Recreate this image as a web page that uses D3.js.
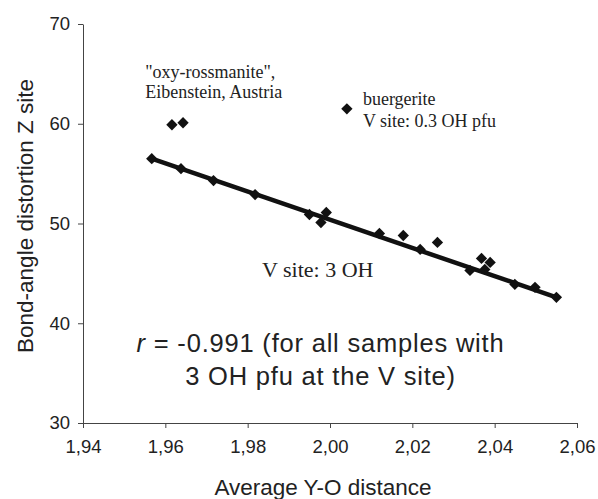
<!DOCTYPE html>
<html>
<head>
<meta charset="utf-8">
<script src="https://cdn.jsdelivr.net/npm/d3@7"></script>
<style>
  html, body { margin: 0; padding: 0; background: #fff; }
  svg { display: block; }
</style>
</head>
<body>
<div id="chart"></div>
<script>
// samples with 3 OH pfu at the V site (on the regression line)
const lineX = [1.9567, 1.9638, 1.9717, 1.9818, 1.9950, 1.9978, 1.9991, 2.0120, 2.0178,
               2.0219, 2.0261, 2.0340, 2.0368, 2.0376, 2.0389, 2.0449, 2.0498, 2.0550];
const lineY = [56.5, 55.5, 54.3, 52.9, 50.9, 50.1, 51.1, 49.0, 48.8,
               47.4, 48.1, 45.3, 46.5, 45.4, 46.1, 43.9, 43.6, 42.6];

// trend line ends, as drawn in the figure
const trendX = [1.9567, 2.0550];
const trendY = [56.5, 42.6];

// outliers
const oxyX = [1.9616, 1.9643];
const oxyY = [59.9, 60.1];
const buergX = [2.0041];
const buergY = [61.5];

const xTicks = [1.94, 1.96, 1.98, 2.00, 2.02, 2.04, 2.06];
const yTicks = [30, 40, 50, 60, 70];

const width = 598,
      height = 499,
      margin = { top: 24, right: 21, bottom: 76, left: 83 };

const sans = "'Liberation Sans', Arial, sans-serif",
      serif = "'Liberation Serif', 'Times New Roman', serif";

const locale = d3.formatLocale({ decimal: ",", thousands: ".", grouping: [3], currency: ["", ""] });
const fmtX = locale.format(".2f");

const svg = d3.select("#chart").append("svg")
  .attr("width", width)
  .attr("height", height)
  .attr("viewBox", [0, 0, width, height]);

const x = d3.scaleLinear()
  .domain([1.94, 2.06])
  .range([margin.left, width - margin.right]);

const y = d3.scaleLinear()
  .domain([30, 70])
  .range([height - margin.bottom, margin.top]);

// axes
svg.append("g")
  .attr("transform", `translate(0,${height - margin.bottom})`)
  .call(d3.axisBottom(x).tickValues(xTicks).tickFormat(fmtX).tickSize(5).tickSizeOuter(0).tickPadding(12))
  .call(g => g.selectAll("path, line").attr("stroke", "#444"))
  .call(g => g.selectAll("text")
    .attr("fill", "#222")
    .style("font-family", sans)
    .style("font-size", "18.5px"));

svg.append("g")
  .attr("transform", `translate(${margin.left},0)`)
  .call(d3.axisLeft(y).tickValues(yTicks).tickSize(5).tickSizeOuter(0).tickPadding(8))
  .call(g => g.selectAll("path, line").attr("stroke", "#444"))
  .call(g => g.selectAll("text")
    .attr("fill", "#222")
    .style("font-family", sans)
    .style("font-size", "18.5px"));

// axis titles
svg.append("text")
  .attr("x", 323)
  .attr("y", 495)
  .attr("text-anchor", "middle")
  .attr("fill", "#222")
  .style("font-family", sans)
  .style("font-size", "22.5px")
  .text("Average Y-O distance");

svg.append("text")
  .attr("transform", `translate(33,${216}) rotate(-90)`)
  .attr("text-anchor", "middle")
  .attr("fill", "#222")
  .style("font-family", sans)
  .style("font-size", "22.5px")
  .text("Bond-angle distortion Z site");

// trend line
svg.append("path")
  .datum(trendX.map((v, i) => [v, trendY[i]]))
  .attr("fill", "none")
  .attr("stroke", "#111")
  .attr("stroke-width", 4.5)
  .attr("d", d3.line().x(d => x(d[0])).y(d => y(d[1])));

// diamonds
const pts = [
  ...lineX.map((v, i) => [v, lineY[i]]),
  ...oxyX.map((v, i) => [v, oxyY[i]]),
  ...buergX.map((v, i) => [v, buergY[i]])
];
const diamond = d3.symbol().type(d3.symbolSquare).size(64);

svg.append("g")
  .selectAll("path")
  .data(pts)
  .join("path")
  .attr("transform", d => `translate(${x(d[0])},${y(d[1])}) rotate(45)`)
  .attr("d", diamond)
  .attr("fill", "#111");

// annotations
function label(lines, px, py, opts) {
  const t = svg.append("text")
    .attr("fill", "#222")
    .attr("text-anchor", opts.anchor || "start")
    .style("font-family", opts.family)
    .style("font-size", opts.size + "px")
    .style("letter-spacing", opts.spacing ? opts.spacing + "px" : null);
  lines.forEach((ln, i) => {
    const ts = t.append("tspan")
      .attr("x", x(px))
      .attr("y", y(py) + i * opts.lead);
    if (Array.isArray(ln)) {
      ln.forEach(part => ts.append("tspan")
        .style("font-style", part.italic ? "italic" : null)
        .text(part.text));
    } else {
      ts.text(ln);
    }
  });
}

label(["\"oxy-rossmanite\",", "Eibenstein, Austria"], 1.9551, 64.6, { family: serif, size: 18, lead: 20 });
label(["buergerite", "V site: 0.3 OH pfu"], 2.0080, 61.9, { family: serif, size: 18, lead: 22 });
label(["V site: 3 OH"], 1.9835, 44.6, { family: serif, size: 22, lead: 0 });
label([
  [{ text: "r", italic: true }, { text: " = -0.991 (for all samples with" }],
  "3 OH pfu at the V site)"
], 1.9977, 37.1, { family: sans, size: 25.5, lead: 33, anchor: "middle", spacing: 0.8 });
</script>
</body>
</html>
